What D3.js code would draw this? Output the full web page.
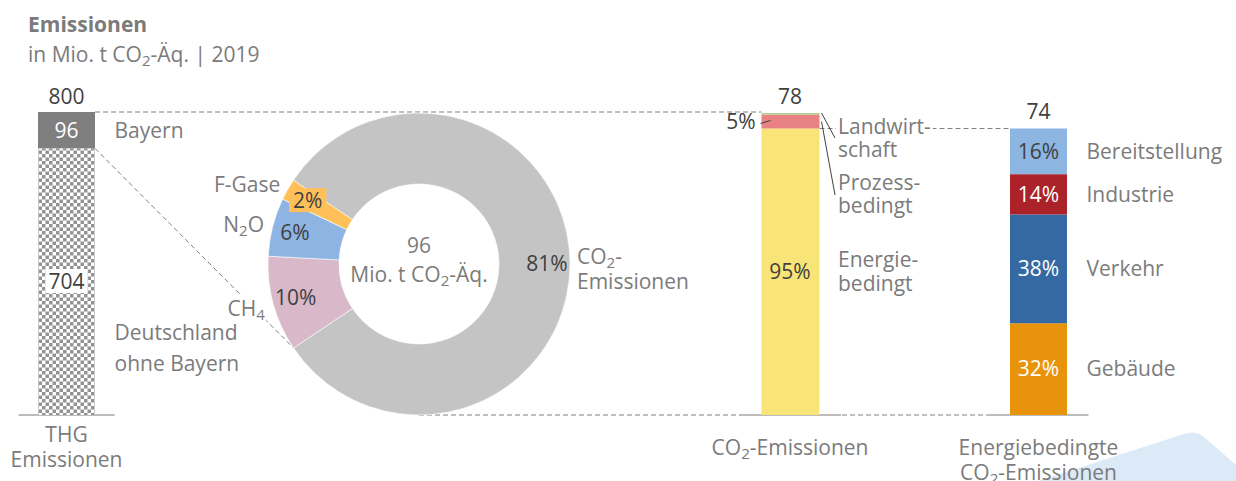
<!DOCTYPE html>
<html><head><meta charset="utf-8">
<script src="https://cdn.jsdelivr.net/npm/d3@7"></script>
<style>body{margin:0;background:#fff}svg{display:block;font-family:"Open Sans",sans-serif}</style>
</head><body>
<script>
// ---------------- data ----------------
const thgCategories = ["Deutschland ohne Bayern", "Bayern"];
const thgValues = [704, 96];
const ghgCategories = ["CO_2-Emissionen", "CH_4", "N_2O", "F-Gase"];
const ghgValues = [78, 9.8, 6.0, 2.2];
const co2Categories = ["Energiebedingt", "Prozessbedingt", "Landwirtschaft"];
const co2Values = [74, 3.6, 0.4];
const energyCategories = ["Gebäude", "Verkehr", "Industrie", "Bereitstellung"];
const energyValues = [23.7, 28.1, 10.4, 11.8];
const barNames = ["THG", "CO2", "ENERGY"];
const barTitles = [["THG", "Emissionen"], ["CO_2-Emissionen"], ["Energiebedingte", "CO_2-Emissionen"]];
const chartTitle = "Emissionen";
const chartSubtitle = "in Mio. t CO_2-Äq. | 2019";

// ---------------- styles ----------------
const GREY = "#7b7b7b", DARK = "#404040", FS = 21;
const thgColors = ["url(#checker)", "#7f7f7f"];
const ghgColors = ["#c4c4c4", "#d9b8c9", "#8db4e2", "#ffc05a"];
const co2Colors = ["#f9e577", "#e98383", "#a9d18e"];
const energyColors = ["#e8930c", "#3569a4", "#ab2328", "#8db5e2"];

const W = 1236, H = 481;
const svg = d3.select("body").append("svg").attr("width", W).attr("height", H);

const defs = svg.append("defs");
const pat = defs.append("pattern").attr("id", "checker").attr("patternUnits", "userSpaceOnUse")
  .attr("width", 7).attr("height", 7);
pat.append("rect").attr("width", 7).attr("height", 7).attr("fill", "#fff");
pat.append("rect").attr("width", 3.5).attr("height", 3.5).attr("fill", "#939393");
pat.append("rect").attr("x", 3.5).attr("y", 3.5).attr("width", 3.5).attr("height", 3.5).attr("fill", "#939393");

function rich(t, s) {
  const parts = s.split(/_(\d)/);
  let shifted = false;
  parts.forEach((p, i) => {
    if (i % 2 === 1) { t.append("tspan").attr("dy", 4).attr("font-size", FS * 0.72).text(p); shifted = true; }
    else if (p) { const ts = t.append("tspan").text(p); if (shifted) { ts.attr("dy", -4); shifted = false; } }
  });
  return t;
}
function label(g, x, y, s, opts = {}) {
  const t = g.append("text").attr("x", x).attr("y", y).attr("dy", "0.35em")
    .attr("font-size", opts.size || FS).attr("fill", opts.fill || GREY)
    .attr("text-anchor", opts.anchor || "start");
  if (opts.weight) t.attr("font-weight", opts.weight);
  rich(t, s);
  if (opts.bg) {
    const b = t.node().getBBox(), p = opts.pad || 1;
    g.insert("rect", () => t.node()).attr("x", b.x - p).attr("y", b.y + 2).attr("width", b.width + 2 * p)
      .attr("height", b.height - 4).attr("fill", opts.bg);
  }
  return t;
}

// decoration bottom right
svg.append("path").attr("d", "M1038,481 L1184,434 Q1196,430 1204,437 L1236,465 L1236,481 Z").attr("fill", "#dce9f6");

// title
svg.append("text").attr("x", 28).attr("y", 32).attr("font-size", FS).attr("font-weight", "bold")
  .attr("fill", GREY).text(chartTitle);
rich(svg.append("text").attr("x", 28).attr("y", 62).attr("font-size", FS).attr("fill", GREY), chartSubtitle);

// ---------------- scales ----------------
const baseY = 415;
const xBar = d3.scaleOrdinal(barNames, [66.5, 790, 1038.5]);
const barW = 57;
const yL = d3.scaleLinear().domain([0, d3.sum(thgValues)]).range([baseY, 112]);
const yR = d3.scaleLinear().domain([0, d3.sum(co2Values)]).range([baseY, 113]);

function stack(vals) { let c = 0; return vals.map(v => { const r = [c, c + v]; c += v; return r; }); }
const gLines = svg.append("g");
const gMarks = svg.append("g");
const gText = svg.append("g");

const dash = "5,3";
const dashC = "#808080";
function dline(x1, y1, x2, y2) {
  gLines.append("line").attr("x1", x1).attr("y1", y1).attr("x2", x2).attr("y2", y2)
    .attr("stroke", dashC).attr("stroke-width", 1).attr("stroke-dasharray", dash);
}

// ---------------- donut ----------------
const cx = 419, cy = 264, rOut = 151, rIn = 80;
const a0 = -56.3 * Math.PI / 180;
const pie = d3.pie().sort(null).startAngle(a0).endAngle(a0 + 2 * Math.PI);
const arcs = pie(ghgValues);
const arc = d3.arc().innerRadius(rIn).outerRadius(rOut);
const labArc = d3.arc().innerRadius(128).outerRadius(128);
const outArc = d3.arc().innerRadius(163).outerRadius(163);
const ghgTotal = d3.sum(ghgValues);

// connector lines (left bar -> donut -> middle bar)
const thgStack = stack(thgValues);
const xl = xBar("THG"), xm = xBar("CO2"), xr = xBar("ENERGY");
dline(xl + barW / 2, yL(thgStack[1][1]), xm - barW / 2, yL(thgStack[1][1]));
const ch4 = arcs[1];
const chPt = [cx + rOut * Math.sin(ch4.startAngle), cy - rOut * Math.cos(ch4.startAngle)];
dline(xl + barW / 2, yL(thgStack[1][0]), chPt[0], chPt[1]);
dline(cx, baseY, xm - 52, baseY);
const co2Stack = stack(co2Values);
dline(xm + barW / 2 + 1, yR(co2Stack[0][1]), xr - barW / 2, yR(co2Stack[0][1]));
dline(xm + 52, baseY, xr - 50, baseY);

const gD = gMarks.append("g").attr("transform", `translate(${cx},${cy})`);
gD.selectAll("path").data(arcs).join("path").attr("d", arc)
  .attr("fill", (d, i) => ghgColors[i]).attr("stroke", "#fff").attr("stroke-width", 0.6);

// donut labels
const gDL = gText.append("g").attr("transform", `translate(${cx},${cy})`);
arcs.forEach((d, i) => {
  const [lx, ly] = labArc.centroid(d);
  const pct = Math.round(d.value / ghgTotal * 100) + "%";
  label(gDL, lx, ly, pct, { anchor: "middle", fill: DARK, bg: i === 3 ? ghgColors[3] : null, pad: 4 });
  const [ox, oy] = outArc.centroid(d);
  if (i === 0) {
    label(gDL, ox - 5, oy - 7, "CO_2-", {});
    label(gDL, ox - 5, oy + 18, "Emissionen", {});
  } else {
    const t = label(gDL, ox + 3, oy + 1, ghgCategories[i], { anchor: "end", bg: i === 1 ? "#fff" : null });
  }
});
label(gDL, 0, -18, String(Math.round(ghgTotal)), { anchor: "middle" });
label(gDL, 0, 11, "Mio. t CO_2-Äq.", { anchor: "middle" });

// ---------------- left bar ----------------
gMarks.selectAll("rect.thg").data(thgStack).join("rect").attr("class", "thg")
  .attr("x", xl - barW / 2).attr("width", barW)
  .attr("y", d => yL(d[1])).attr("height", d => yL(d[0]) - yL(d[1]))
  .attr("fill", (d, i) => thgColors[i]);
label(gText, xl, yL(d3.sum(thgValues)) - 15, String(d3.sum(thgValues)), { anchor: "middle", fill: DARK });
label(gText, xl, (yL(thgStack[1][0]) + yL(thgStack[1][1])) / 2, String(thgValues[1]), { anchor: "middle", fill: "#fff" });
label(gText, xl, (yL(thgStack[0][0]) + yL(thgStack[0][1])) / 2, String(thgValues[0]), { anchor: "middle", fill: DARK, bg: "#fff", pad: 3 });
label(gText, xl + 48, (yL(thgStack[1][0]) + yL(thgStack[1][1])) / 2, thgCategories[1], {});
label(gText, xl + 48, 333, "Deutschland", {});
label(gText, xl + 48, 364, "ohne Bayern", {});

// ---------------- middle bar ----------------
gMarks.selectAll("rect.co2").data(co2Stack).join("rect").attr("class", "co2")
  .attr("x", xm - barW / 2).attr("width", barW + 1)
  .attr("y", d => yR(d[1])).attr("height", d => yR(d[0]) - yR(d[1]))
  .attr("fill", (d, i) => co2Colors[i]);
const co2Total = d3.sum(co2Values);
label(gText, xm, yR(co2Total) - 16, String(co2Total), { anchor: "middle", fill: DARK });
label(gText, xm, (yR(co2Stack[0][0]) + yR(co2Stack[0][1])) / 2, Math.round(co2Values[0] / co2Total * 100) + "%", { anchor: "middle", fill: DARK });
const redMid = (yR(co2Stack[1][0]) + yR(co2Stack[1][1])) / 2;
label(gText, xm - barW / 2 - 6, redMid, Math.round(co2Values[1] / co2Total * 100) + "%", { anchor: "end", fill: DARK });
gText.append("line").attr("x1", xm - barW / 2 - 1).attr("y1", redMid + 2).attr("x2", xm - barW / 2 + 9).attr("y2", redMid - 1).attr("stroke", DARK);
// leader lines
const xmR = xm + barW / 2 + 3;
gText.append("line").attr("x1", xmR).attr("y1", yR(co2Total)).attr("x2", 835).attr("y2", 138).attr("stroke", DARK);
gText.append("line").attr("x1", xmR).attr("y1", redMid).attr("x2", 835).attr("y2", 195).attr("stroke", DARK);
label(gText, 838, 127, "Landwirt-", { bg: "#fff", pad: 2 });
label(gText, 838, 150, "schaft", {});
label(gText, 838, 183, "Prozess-", {});
label(gText, 838, 206, "bedingt", {});
label(gText, 838, 260, "Energie-", {});
label(gText, 838, 284, "bedingt", {});

// ---------------- right bar ----------------
const enStack = stack(energyValues);
const enTotal = d3.sum(energyValues);
gMarks.selectAll("rect.en").data(enStack).join("rect").attr("class", "en")
  .attr("x", xr - barW / 2).attr("width", barW)
  .attr("y", d => yR(d[1])).attr("height", d => yR(d[0]) - yR(d[1]))
  .attr("fill", (d, i) => energyColors[i]);
label(gText, xr, yR(enTotal) - 17, String(Math.round(enTotal)), { anchor: "middle", fill: DARK });
enStack.forEach((d, i) => {
  const my = (yR(d[0]) + yR(d[1])) / 2;
  label(gText, xr, my, Math.round(energyValues[i] / enTotal * 100) + "%", { anchor: "middle", fill: i === 3 ? DARK : "#fff" });
  label(gText, xr + 48, my, energyCategories[i], {});
});

// ---------------- baselines & axis titles ----------------
[[xl, 48], [xm, 51], [xr, 50]].forEach(([x, h]) => {
  gLines.append("line").attr("x1", x - h).attr("x2", x + h).attr("y1", baseY).attr("y2", baseY)
    .attr("stroke", "#a6a6a6").attr("stroke-width", 1.5);
});
barNames.forEach((n, i) => {
  const lines = barTitles[i];
  const y0 = i === 0 ? 435 : 448;
  lines.forEach((s, j) => label(gText, xBar(n), y0 + j * 25, s, { anchor: "middle" }));
});
</script>
</body></html>
